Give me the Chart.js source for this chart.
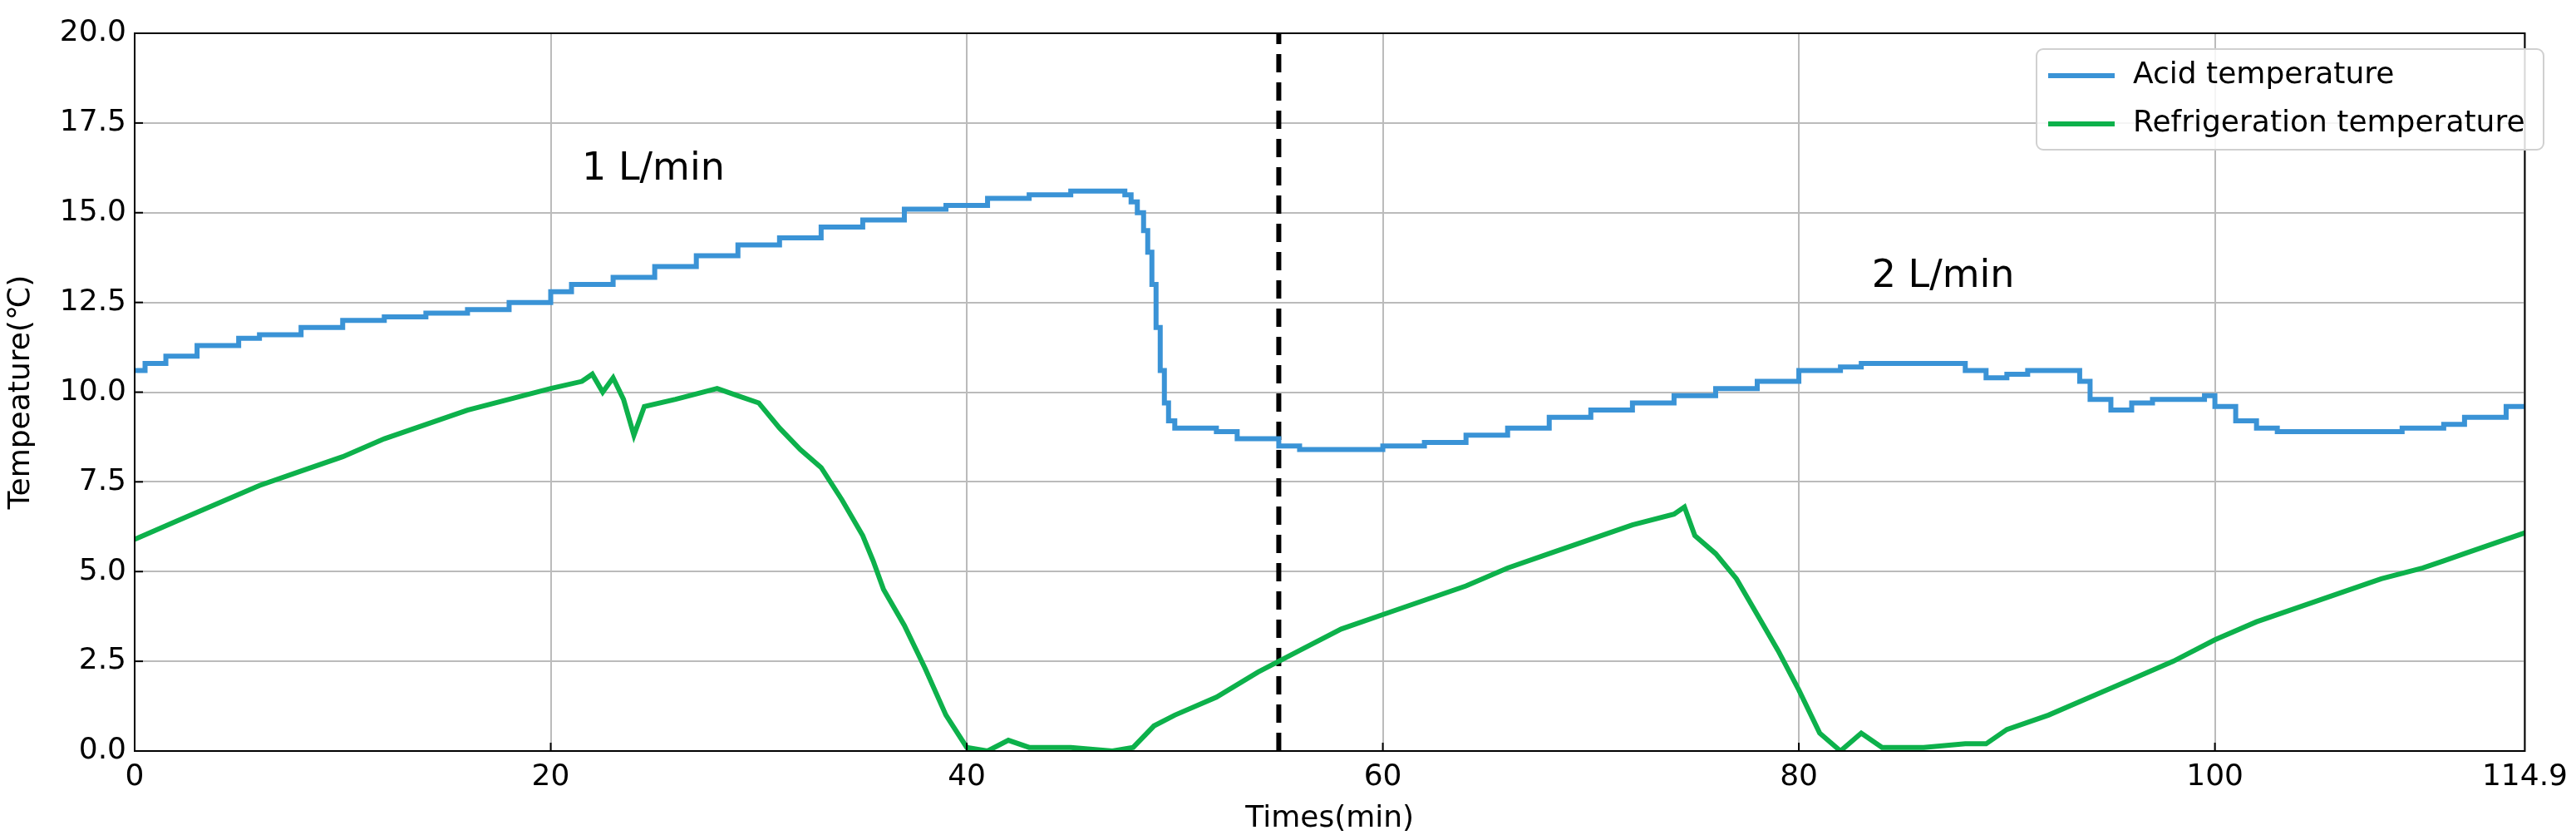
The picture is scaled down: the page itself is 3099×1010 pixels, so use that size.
<!DOCTYPE html>
<html>
<head>
<meta charset="utf-8">
<script src="https://cdn.jsdelivr.net/npm/chart.js@4"></script>
<style>
  body { margin: 0; background: #fff; }
  #wrap { width: 3099px; height: 1010px; }
</style>
</head>
<body>
<div id="wrap"><canvas id="mycanvas" width="3099" height="1010"></canvas></div>
<script>
// acid temperature (step like)
var acidTime = [0,0.5,1.5,3,5,6,8,10,12,14,16,18,20,21,23,25,27,29,31,33,35,37,39,41,43,45,47,47.6,47.9,48.2,48.5,48.7,48.9,49.1,49.3,49.5,49.7,50,52,53,55,56,60,62,64,66,68,70,72,74,76,78,80,82,83,87,88,89,90,91,93,93.5,94,95,96,97,99,99.5,100,101,102,103,108,109,111,112,114,115];
var acidTemp = [10.6,10.8,11.0,11.3,11.5,11.6,11.8,12.0,12.1,12.2,12.3,12.5,12.8,13.0,13.2,13.5,13.8,14.1,14.3,14.6,14.8,15.1,15.2,15.4,15.5,15.6,15.6,15.5,15.3,15.0,14.5,13.9,13.0,11.8,10.6,9.7,9.2,9.0,8.9,8.7,8.5,8.4,8.5,8.6,8.8,9.0,9.3,9.5,9.7,9.9,10.1,10.3,10.6,10.7,10.8,10.8,10.6,10.4,10.5,10.6,10.6,10.3,9.8,9.5,9.7,9.8,9.8,9.9,9.6,9.2,9.0,8.9,8.9,9.0,9.1,9.3,9.6,9.8];

// refrigeration temperature
var refTime = [0,2,4,6,8,10,12,14,16,18,20,21.5,22,22.5,23,23.5,24,24.5,26,28,29,30,31,32,33,34,35,35.5,36,37,38,39,40,41,42,43,45,47,48,49,50,52,54,56,58,60,62,64,66,68,70,72,74,74.5,75,76,77,78,79,80,81,82,83,84,86,88,89,90,92,94,96,98,100,102,104,106,108,110,111,112,114,115];
var refTemp = [5.9,6.4,6.9,7.4,7.8,8.2,8.7,9.1,9.5,9.8,10.1,10.3,10.5,10.0,10.4,9.8,8.8,9.6,9.8,10.1,9.9,9.7,9.0,8.4,7.9,7.0,6.0,5.3,4.5,3.5,2.3,1.0,0.1,0.0,0.3,0.1,0.1,0.0,0.1,0.7,1.0,1.5,2.2,2.8,3.4,3.8,4.2,4.6,5.1,5.5,5.9,6.3,6.6,6.8,6.0,5.5,4.8,3.8,2.8,1.7,0.5,0.0,0.5,0.1,0.1,0.2,0.2,0.6,1.0,1.5,2.0,2.5,3.1,3.6,4.0,4.4,4.8,5.1,5.3,5.5,5.9,6.1];

var switchTime = [55, 55];
var switchTemp = [0, 20];

var notes = [
  { text: '1 L/min', x: 21.5, y: 16.2 },
  { text: '2 L/min', x: 83.5, y: 13.2 }
];

var seriesNames = ['Acid temperature', 'Refrigeration temperature'];
var seriesColors = ['#3a93d6', '#0db14b'];

function pts(xs, ys) {
  var out = [];
  for (var i in xs) out.push({ x: xs[i], y: ys[i] });
  return out;
}

var font = 'DejaVu Sans, sans-serif';

var extras = {
  id: 'extras',
  afterDraw: function(chart) {
    var ctx = chart.ctx, xs = chart.scales.x, ys = chart.scales.y, a = chart.chartArea;
    ctx.save();
    // frame
    ctx.strokeStyle = '#000';
    ctx.lineWidth = 2;
    ctx.strokeRect(a.left, a.top, a.right - a.left, a.bottom - a.top);
    // inward ticks
    [0,20,40,60,80,100].forEach(function(v) {
      var px = xs.getPixelForValue(v);
      ctx.beginPath(); ctx.moveTo(px, a.bottom); ctx.lineTo(px, a.bottom - 10); ctx.stroke();
    });
    for (var v = 0; v <= 20; v += 2.5) {
      var py = ys.getPixelForValue(v);
      ctx.beginPath(); ctx.moveTo(a.left, py); ctx.lineTo(a.left + 10, py); ctx.stroke();
    }
    // notes
    ctx.fillStyle = '#000';
    ctx.font = '46px ' + font;
    ctx.textBaseline = 'middle';
    notes.forEach(function(n) {
      ctx.fillText(n.text, xs.getPixelForValue(n.x), ys.getPixelForValue(n.y));
    });
    // legend
    var lx = 2450, ly = 59, lw = 610, lh = 121;
    ctx.fillStyle = 'rgba(255,255,255,0.85)';
    ctx.strokeStyle = '#d0d0d0';
    ctx.lineWidth = 2;
    ctx.beginPath();
    ctx.roundRect(lx, ly, lw, lh, 8);
    ctx.fill(); ctx.stroke();
    ctx.font = '36px ' + font;
    for (var i = 0; i < 2; i++) {
      var yy = ly + 32 + i * 58;
      ctx.strokeStyle = seriesColors[i];
      ctx.lineWidth = 6;
      ctx.beginPath(); ctx.moveTo(lx + 14, yy); ctx.lineTo(lx + 94, yy); ctx.stroke();
      ctx.fillStyle = '#000';
      ctx.fillText(seriesNames[i], lx + 116, yy);
    }
    ctx.restore();
  }
};

new Chart(document.getElementById('mycanvas'), {
  type: 'line',
  data: {
    datasets: [
      { label: seriesNames[0], data: pts(acidTime, acidTemp), borderColor: seriesColors[0], borderWidth: 6, pointRadius: 0, stepped: true },
      { label: seriesNames[1], data: pts(refTime, refTemp), borderColor: seriesColors[1], borderWidth: 6, pointRadius: 0, tension: 0 },
      { label: 'switch', data: pts(switchTime, switchTemp), borderColor: '#000', borderWidth: 6, borderDash: [22, 12], pointRadius: 0 }
    ]
  },
  options: {
    responsive: false,
    animation: false,
    layout: { padding: { top: 40, right: 24, left: 0, bottom: 0 } },
    plugins: { legend: { display: false }, tooltip: { enabled: false } },
    scales: {
      x: {
        type: 'linear', min: 0, max: 114.9,
        ticks: { stepSize: 20, color: '#000', font: { size: 36, family: font }, padding: 10 },
        grid: { color: '#bbbbbb', lineWidth: 2, drawTicks: false },
        border: { display: false },
        title: { display: true, text: 'Times(min)', color: '#000', font: { size: 36, family: font }, padding: 4 },
        afterFit: function(s) { s.height = 107; }
      },
      y: {
        min: 0, max: 20,
        ticks: { stepSize: 2.5, color: '#000', font: { size: 36, family: font }, padding: 10,
                 callback: function(v) { return v.toFixed(1); } },
        grid: { color: '#bbbbbb', lineWidth: 2, drawTicks: false },
        border: { display: false },
        title: { display: true, text: 'Tempeature(℃)', color: '#000', font: { size: 36, family: font }, padding: 4 },
        afterFit: function(s) { s.width = 162; }
      }
    }
  },
  plugins: [extras]
});
</script>
</body>
</html>
